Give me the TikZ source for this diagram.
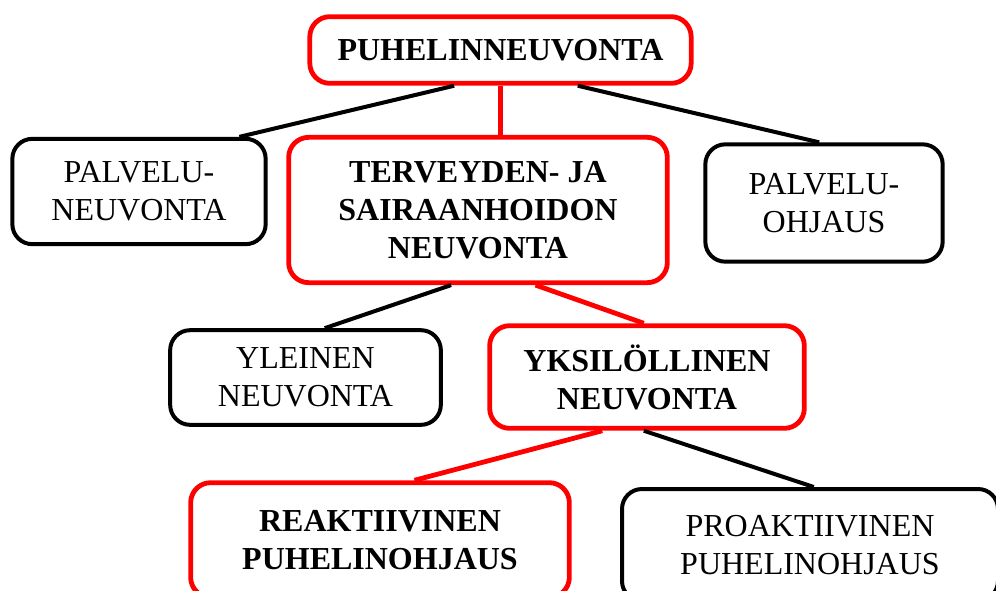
\documentclass[tikz,border=0pt]{standalone}
\usepackage{fontspec}
\setmainfont{Liberation Serif}
\usepackage{tikz}
\usetikzlibrary{calc, positioning}
\definecolor{mainpath}{RGB}{255, 0, 0}

\begin{document}
\begin{tikzpicture}[x=0.75pt, y=-0.75pt,
  box/.style={draw, rounded corners=15pt, line width=3pt, align=center, inner sep=0pt,
    font=\fontsize{24}{28.5}\selectfont},
  redbox/.style={box, draw=mainpath, line width=3.6pt, font=\fontsize{24}{28.5}\selectfont\bfseries},
  link/.style={line width=3pt},
  redlink/.style={mainpath, line width=3.6pt}]
  \useasboundingbox (0,0) rectangle (996,590);
  \clip (0,0) rectangle (996,590);
  \node[redbox, minimum width=286pt, minimum height=50pt] (title) at (500.5,50) {PUHELINNEUVONTA};
  \node[box, minimum width=190pt, minimum height=79pt] (pneuv) at (139,191.5) {PALVELU-\\NEUVONTA};
  \node[redbox, minimum width=284pt, minimum height=109pt] (terv) at (478,210) {TERVEYDEN- JA\\SAIRAANHOIDON\\NEUVONTA};
  \node[box, minimum width=178pt, minimum height=88pt] (pohj) at (824,203) {PALVELU-\\OHJAUS};
  \node[box, minimum width=203pt, minimum height=71pt] (yleinen) at (305.5,377.5) {YLEINEN\\NEUVONTA};
  \node[redbox, minimum width=236pt, minimum height=77pt] (yksil) at (647,377) {YKSILÖLLINEN\\NEUVONTA};
  \node[redbox, minimum width=284pt, minimum height=86pt] (reakt) at (380,540) {REAKTIIVINEN\\PUHELINOHJAUS};
  \node[box, minimum width=282pt, minimum height=84pt] (proakt) at (810,545) {PROAKTIIVINEN\\PUHELINOHJAUS};
  \draw[link] ($(title.south west)!0.38!(title.south east)$) -- ($(pneuv.north west)!0.89!(pneuv.north east)$);
  \draw[redlink] (title.south) -- (terv.north -| title.south);
  \draw[link] ($(title.south west)!0.70!(title.south east)$) -- ($(pohj.north west)!0.48!(pohj.north east)$);
  \draw[link] ($(terv.south west)!0.43!(terv.south east)$) -- ($(yleinen.north west)!0.57!(yleinen.north east)$);
  \draw[redlink] ($(terv.south west)!0.65!(terv.south east)$) -- ($(yksil.north west)!0.49!(yksil.north east)$);
  \draw[redlink] ($(yksil.south west)!0.36!(yksil.south east)$) -- ($(reakt.north west)!0.59!(reakt.north east)$);
  \draw[link] ($(yksil.south west)!0.49!(yksil.south east)$) -- ($(proakt.north west)!0.51!(proakt.north east)$);
\end{tikzpicture}
\end{document}
